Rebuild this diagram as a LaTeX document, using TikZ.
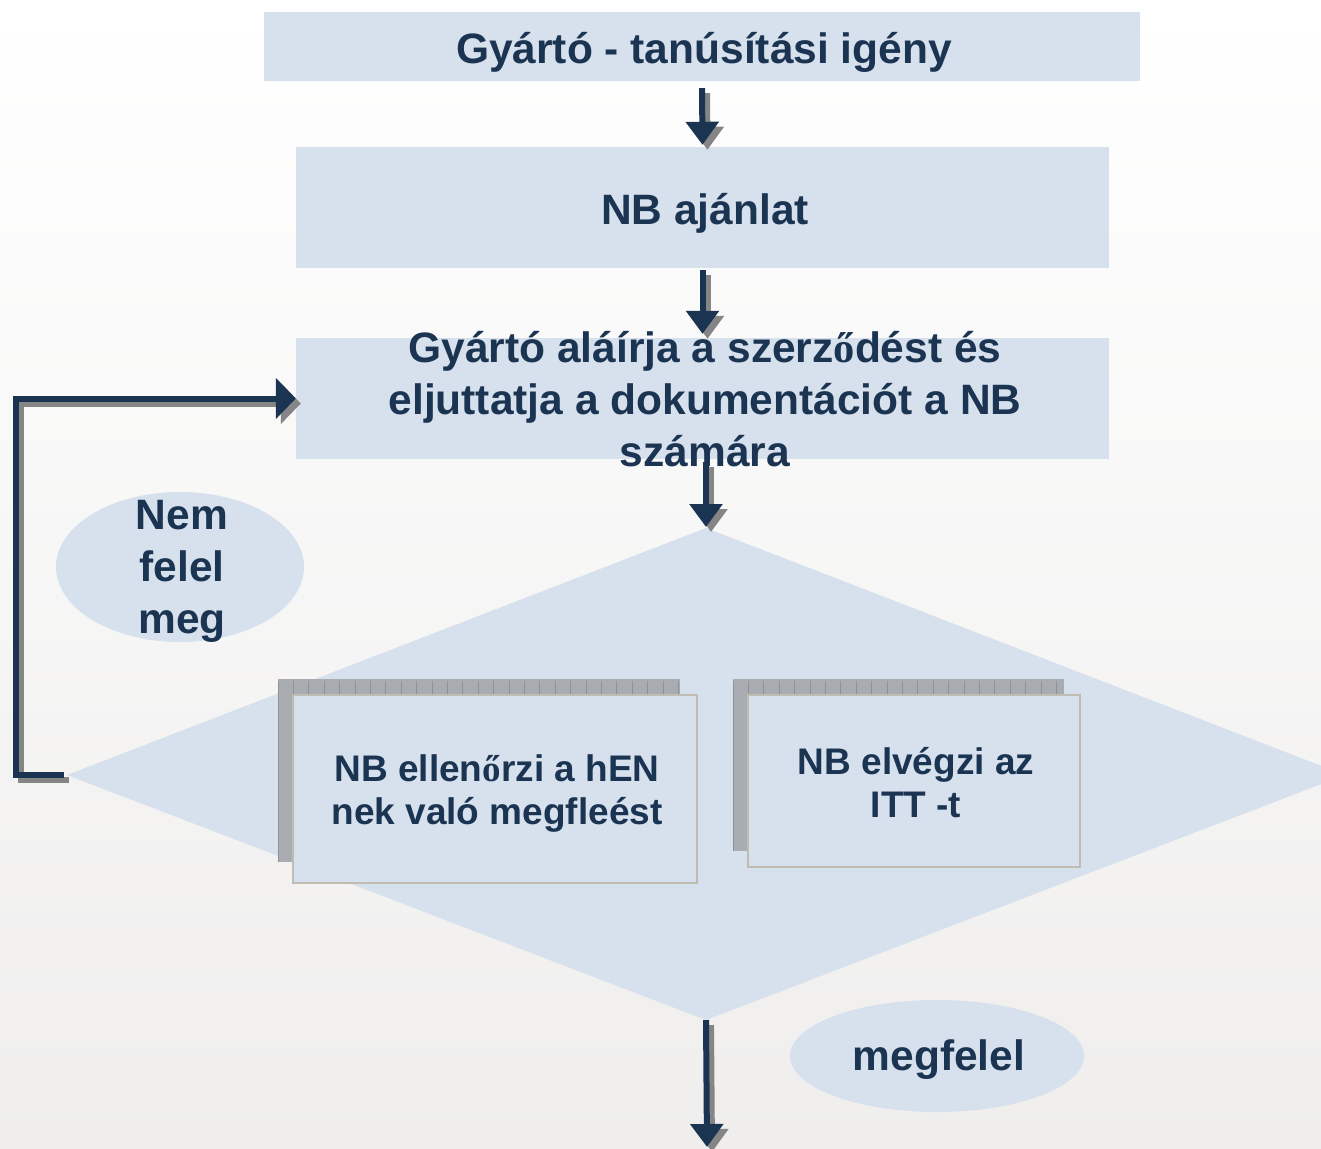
\documentclass[tikz,border=0pt]{standalone}
\usepackage{fontspec}
\setmainfont{Liberation Sans}
\newfontfamily\serifalt{Liberation Serif}
\usetikzlibrary{arrows.meta,calc,shapes.geometric}
\definecolor{navy}{HTML}{1B3452}
\definecolor{boxfill}{HTML}{D7E1ED}
\definecolor{shadowgray}{HTML}{858585}
\definecolor{gridfill}{HTML}{A9ACB1}
\definecolor{gridline}{HTML}{8E9197}
\definecolor{boxedge}{HTML}{BFBDB2}
\definecolor{bgbottom}{HTML}{EFEEED}
\newcommand{\oo}{{\serifalt\bfseries ő}}
\begin{document}
\begin{tikzpicture}[x=1pt,y=-1pt,
  box/.style={fill=boxfill, draw=none, inner sep=0pt},
  innerbox/.style={fill=boxfill, draw=boxedge, line width=2.5pt, inner sep=0pt},
  oval/.style={ellipse, fill=boxfill, draw=none, inner sep=0pt},
  txt/.style={text=navy, font=\bfseries\fontsize{42.5}{52}\selectfont, align=center, inner sep=0pt},
  smalltxt/.style={text=navy, font=\bfseries\fontsize{37}{43}\selectfont, align=center, inner sep=0pt},
  flowarrow/.style={draw=navy, line width=6pt, line join=miter,
    -{Triangle[width=32pt,length=23pt]},
    preaction={draw=shadowgray, line width=6pt, line join=miter,
      -{Triangle[width=32pt,length=23pt]},
      transform canvas={shift={(5pt,-5pt)}}}},
  fbarrow/.style={draw=navy, line width=6pt, line join=miter,
    -{Triangle[width=40pt,length=20pt]},
    preaction={draw=shadowgray, line width=6pt, line join=miter,
      -{Triangle[width=40pt,length=20pt]},
      transform canvas={shift={(5pt,-5pt)}}}}
]
% page
\clip (0,0) rectangle (1321,1148);
\useasboundingbox (0,0) rectangle (1321,1148);
\shade[top color=white, bottom color=bgbottom] (0,0) rectangle (1321,1148);

% diamond
\coordinate (dtop) at (706,528);
\coordinate (dright) at (1345,775);
\coordinate (dbot) at (706,1020);
\coordinate (dleft) at (67,775);
\fill[boxfill] (dtop) -- (dright) -- (dbot) -- (dleft) -- cycle;

% ovals
\node[oval, minimum width=248, minimum height=150] (nemov) at (180,567) {};
\node[txt] (nemt) at (182,571) {Nem\\felel\\meg};
\node[oval, minimum width=294, minimum height=112] (megov) at (937,1056) {};
\node[txt] (megt) at (939,1060) {megfelel};

% main boxes
\node[box, minimum width=876, minimum height=69] (b1) at (702,46.5) {};
\node[txt] (b1t) at (704,52) {Gyártó - tanúsítási igény};
\node[box, minimum width=813, minimum height=121] (b2) at (702.5,207.5) {};
\node[txt] (b2t) at (705,213) {NB ajánlat};
\node[box, minimum width=813, minimum height=121] (b3) at (702.5,398.5) {};
\node[txt] (b3t) at (705,399.5) {Gyártó aláírja a szerz\oo dést és\\eljuttatja a dokumentációt a NB\\számára};

% inner boxes with grid shadows
\begin{scope}
  \clip (278,679) rectangle (680,862);
  \fill[gridfill] (278,679) rectangle (680,862);
  \draw[gridline, line width=0.8pt, xstep=15.4, ystep=15.4, shift={(278,681)}] (0,0) grid (402,181);
\end{scope}
\node[innerbox, minimum width=404, minimum height=188] (ia) at (495,789) {};
\node[smalltxt] (iat) at (497,794) {NB ellen\oo rzi a hEN\\nek való megfleést};

\begin{scope}
  \clip (733,679) rectangle (1064,851);
  \fill[gridfill] (733,679) rectangle (1064,851);
  \draw[gridline, line width=0.8pt, xstep=15.4, ystep=15.4, shift={(733,681)}] (0,0) grid (331,170);
\end{scope}
\node[innerbox, minimum width=332, minimum height=172] (ib) at (914,781) {};
\node[smalltxt] (ibt) at (916,783) {NB elvégzi az\\ITT -t};

% connectors
\draw[flowarrow] ($(b1.south)+(0,7)$) -- ($(b2.north)+(0,-2)$);
\draw[flowarrow] ($(b2.south)+(0,2)$) -- ($(b3.north)+(0,-4)$);
\draw[flowarrow] ($(b3.south)+(3.5,3)$) -- ($(dtop)+(0,-1)$);
\coordinate (fbc) at (16,775);
\draw[fbarrow] ($(dleft)+(-3,0)$) -- (fbc) |- (b3.west);
\coordinate (endp) at (707,1147);
\draw[flowarrow] (dbot) -- (endp);
\end{tikzpicture}
\end{document}
